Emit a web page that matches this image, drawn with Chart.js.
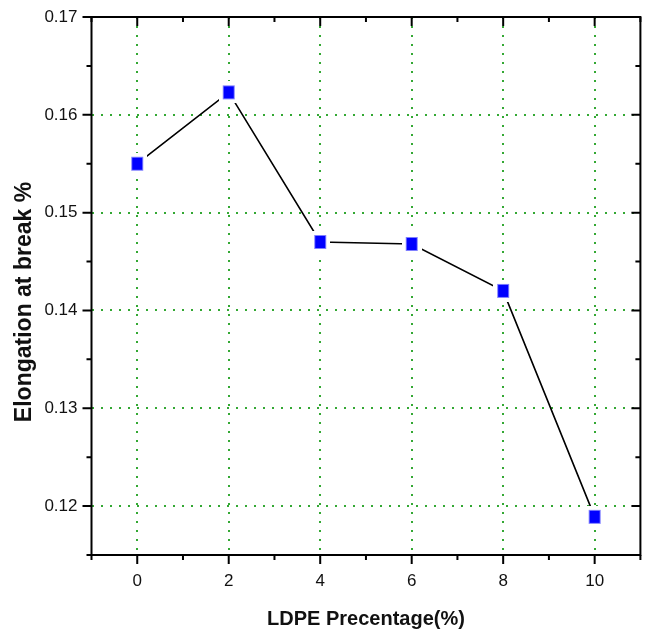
<!DOCTYPE html>
<html>
<head>
<meta charset="utf-8">
<script src="https://cdn.jsdelivr.net/npm/chart.js@4"></script>
<style>
  body { margin: 0; background: #fff; }
  #wrap { width: 652px; height: 635px; }
</style>
</head>
<body>
<div id="wrap"><canvas id="elongChart" width="652" height="635"></canvas></div>
<script>
// data
const ldpePercent = [0, 2, 4, 6, 8, 10];
const elongation = [0.1550, 0.1623, 0.1470, 0.1468, 0.1420, 0.1189];
const xTickValues = [-1, 0, 1, 2, 3, 4, 5, 6, 7, 8, 9, 10, 11];
const yTickValues = [0.115, 0.12, 0.125, 0.13, 0.135, 0.14, 0.145, 0.15, 0.155, 0.16, 0.165, 0.17];
const yTitle = 'Elongation at break %';

const gridGreen = '#33a833';
const font = 'Liberation Sans, Arial, sans-serif';

// square marker with a white margin so the line stops short of it
function makeMarker() {
    const c = document.createElement('canvas');
    c.width = 20; c.height = 22;
    const g = c.getContext('2d');
    g.fillStyle = '#ffffff';
    g.fillRect(0, 0, 20, 22);
    g.fillStyle = '#0000ff';
    g.fillRect(4, 4, 12, 14);
    g.strokeStyle = '#7f7fff';
    g.lineWidth = 1;
    g.strokeRect(4.5, 4.5, 11, 13);
    return c;
}

const isMajorX = v => Math.round(v) % 2 === 0;
const isMajorY = v => Math.round(v * 1000) % 10 === 0;

// frame, in/out tick marks and the rotated y title
const framePlugin = {
    id: 'frame',
    afterDraw(chart) {
        const { ctx, chartArea: a, scales } = chart;
        ctx.save();
        ctx.strokeStyle = '#000';
        ctx.lineWidth = 2;
        ctx.lineCap = 'butt';
        ctx.beginPath();
        xTickValues.forEach(v => {
            const px = scales.x.getPixelForValue(v);
            const len = isMajorX(v) ? 9 : 5;
            ctx.moveTo(px, a.bottom); ctx.lineTo(px, a.bottom + len);
            ctx.moveTo(px, a.top); ctx.lineTo(px, a.top + len);
        });
        yTickValues.forEach(v => {
            const py = scales.y.getPixelForValue(v);
            const len = isMajorY(v) ? 9 : 5;
            ctx.moveTo(a.left, py); ctx.lineTo(a.left - len, py);
            ctx.moveTo(a.right, py); ctx.lineTo(a.right - len, py);
        });
        ctx.stroke();
        ctx.strokeRect(a.left, a.top, a.right - a.left, a.bottom - a.top);

        ctx.translate(a.left - 67, (a.top + a.bottom) / 2 + 16);
        ctx.rotate(-Math.PI / 2);
        ctx.fillStyle = '#111';
        ctx.font = 'bold 23px ' + font;
        ctx.textAlign = 'center';
        ctx.textBaseline = 'middle';
        ctx.fillText(yTitle, 0, 0);
        ctx.restore();
    }
};

const ctx = document.getElementById('elongChart').getContext('2d');
new Chart(ctx, {
    type: 'line',
    data: {
        datasets: [{
            data: ldpePercent.map((x, i) => ({ x: x, y: elongation[i] })),
            borderColor: '#000',
            borderWidth: 1.6,
            pointStyle: makeMarker(),
            pointRadius: 10,
            fill: false,
            tension: 0
        }]
    },
    options: {
        responsive: false,
        animation: false,
        layout: { padding: { top: 17, right: 9, left: 0, bottom: 0 } },
        plugins: { legend: { display: false }, tooltip: { enabled: false } },
        scales: {
            x: {
                type: 'linear',
                min: -1,
                max: 11,
                afterFit: s => { s.height = 80; s.paddingLeft = 0; s.paddingRight = 0; },
                afterBuildTicks: s => { s.ticks = xTickValues.map(v => ({ value: v })); },
                border: { display: false, dash: [2, 7] },
                grid: {
                    drawTicks: false,
                    color: c => (c.tick && isMajorX(c.tick.value) && c.tick.value > -1 && c.tick.value < 11) ? gridGreen : 'rgba(0,0,0,0)',
                    lineWidth: 2
                },
                ticks: {
                    padding: 16,
                    color: '#111',
                    font: { family: font, size: 17 },
                    callback: v => isMajorX(v) ? String(v) : ''
                },
                title: {
                    display: true,
                    text: 'LDPE Precentage(%)',
                    color: '#111',
                    font: { family: font, size: 20, weight: 'bold' },
                    padding: { top: 6 }
                }
            },
            y: {
                min: 0.115,
                max: 0.17,
                afterFit: s => { s.width = 91.5; s.paddingTop = 0; s.paddingBottom = 0; },
                afterBuildTicks: s => { s.ticks = yTickValues.map(v => ({ value: v })); },
                border: { display: false, dash: [2, 7] },
                grid: {
                    drawTicks: false,
                    color: c => (c.tick && isMajorY(c.tick.value) && c.tick.value < 0.169) ? gridGreen : 'rgba(0,0,0,0)',
                    lineWidth: 2
                },
                ticks: {
                    padding: 14,
                    color: '#111',
                    font: { family: font, size: 17 },
                    callback: v => isMajorY(v) ? v.toFixed(2) : ''
                },
                title: { display: false }
            }
        }
    },
    plugins: [framePlugin]
});
</script>
</body>
</html>
